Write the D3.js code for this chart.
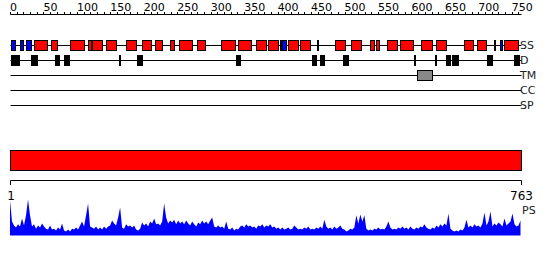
<!DOCTYPE html>
<html>
<head>
<meta charset="utf-8">
<script src="https://cdn.jsdelivr.net/npm/d3@7"></script>
<style>
body { margin: 0; background: #fff; }
svg { display: block; }
text { font-family: "DejaVu Sans", sans-serif; }
</style>
</head>
<body>
<svg id="chart" width="550" height="260"></svg>
<script>
var seqLength = 763;
var rulerLabels = d3.range(0, 751, 50);
var rulerTicks = d3.range(0, 761, 10);
var trackNames = ["SS", "D", "TM", "CC", "SP"];

// secondary structure, [start, end] in residues
var helix = [[36, 55], [61, 70], [90, 110], [117, 121], [123, 137], [144, 159], [174, 189],
    [198, 211], [217, 227], [239, 245], [253, 272], [280, 291], [316, 337], [341, 360],
    [367, 382], [386, 401], [416, 430], [434, 449], [459, 460], [486, 500], [510, 524],
    [538, 544], [547, 551], [563, 578], [583, 602], [615, 630], [636, 651], [678, 692],
    [698, 711], [724, 725], [739, 759]];
var strand = [[1, 7], [15, 19], [24, 31], [403, 405], [407, 413], [732, 735]];
var disorder = [[1, 13], [31, 40], [61, 62], [67, 73], [81, 88], [163, 164], [190, 197],
    [338, 344], [452, 458], [463, 470], [478, 479], [497, 505], [530, 531], [604, 605],
    [635, 636], [652, 658], [660, 669], [696, 697], [713, 720], [754, 761]];
var transmembrane = [[608, 631]];
var coiledCoil = [];
var signalPeptide = [];

// PS profile, evenly spaced over the sequence
var psScores = [
    .97, .39, .28, .22, .31, .25, .47, .28, .56, 1, .56, .25, .31, .19, .28, .22,
    .33, .25, .19, .17, .28, .17, .19, .14, .22, .17, .33, .14, .11, .17, .11, .19,
    .17, .22, .17, .28, .39, .25, .56, .89, .25, .22, .19, .25, .17, .22, .17, .25,
    .19, .25, .28, .42, .33, .28, .5, .78, .22, .19, .31, .25, .28, .22, .28, .17,
    .14, .19, .36, .28, .33, .25, .39, .33, .47, .31, .33, .28, .39, .89, .5, .33,
    .42, .36, .44, .31, .42, .33, .39, .31, .42, .33, .28, .39, .31, .25, .36, .31,
    .42, .33, .39, .31, .42, .5, .25, .22, .28, .22, .25, .19, .39, .19, .17, .22,
    .14, .19, .17, .25, .28, .22, .31, .25, .28, .22, .25, .19, .28, .25, .31, .22,
    .28, .25, .31, .22, .25, .19, .22, .17, .22, .17, .19, .22, .17, .19, .28, .22,
    .17, .19, .17, .22, .19, .25, .17, .19, .17, .22, .19, .25, .19, .44, .25, .19,
    .22, .17, .25, .19, .22, .28, .19, .17, .11, .14, .19, .17, .22, .56, .33, .58,
    .39, .56, .19, .14, .17, .14, .19, .17, .22, .17, .19, .17, .25, .39, .22, .17,
    .19, .17, .22, .19, .25, .19, .22, .17, .25, .19, .17, .22, .19, .25, .22, .31,
    .22, .19, .17, .22, .19, .28, .22, .31, .25, .33, .28, .61, .19, .14, .11, .14,
    .11, .17, .14, .22, .44, .22, .28, .22, .31, .25, .28, .22, .33, .64, .28, .39,
    .67, .25, .33, .28, .36, .31, .25, .47, .28, .33, .39, .61, .31, .25, .28, .42];

var svg = d3.select("#chart");
var x = d3.scaleLinear().domain([0, seqLength]).range([10, 520.5]);
function px(v) { return Math.round(x(v)) + 0.5; }

// top ruler
var ruler = svg.append("g");
ruler.append("line")
    .attr("x1", px(0)).attr("x2", px(seqLength))
    .attr("y1", 14.5).attr("y2", 14.5)
    .attr("stroke", "#000");
ruler.selectAll(".tick").data(rulerTicks).enter().append("line")
    .attr("x1", function(d) { return px(d); })
    .attr("x2", function(d) { return px(d); })
    .attr("y1", 12).attr("y2", 14.5)
    .attr("stroke", "#000");
ruler.selectAll("text").data(rulerLabels).enter().append("text")
    .attr("x", function(d) { return x(d); })
    .attr("y", 10.5)
    .style("font-size", "11px")
    .text(function(d) { return d; });

// tracks
var trackY = d3.scalePoint().domain(trackNames).range([45.5, 105.5]);

svg.append("g").selectAll("line").data(trackNames).enter().append("line")
    .attr("x1", px(0)).attr("x2", px(seqLength))
    .attr("y1", function(d) { return trackY(d); })
    .attr("y2", function(d) { return trackY(d); })
    .attr("stroke", "#000");

svg.append("g").selectAll("text").data(trackNames).enter().append("text")
    .attr("x", 520)
    .attr("y", function(d) { return trackY(d); })
    .attr("dy", "0.36em")
    .style("font-size", "11px")
    .style("fill", "#222")
    .text(function(d) { return d; });

function drawBoxes(list, track, fill) {
    svg.append("g").selectAll("rect").data(list).enter().append("rect")
        .attr("x", function(d) { return px(d[0]); })
        .attr("width", function(d) { return Math.max(0, px(d[1]) - px(d[0])); })
        .attr("y", trackY(track) - 5)
        .attr("height", 10)
        .attr("fill", fill)
        .attr("stroke", "#000");
}
drawBoxes(helix, "SS", "#ff0000");
drawBoxes(strand, "SS", "#0000ff");
drawBoxes(disorder, "D", "#000");
drawBoxes(transmembrane, "TM", "#888888");
drawBoxes(coiledCoil, "CC", "#888888");
drawBoxes(signalPeptide, "SP", "#888888");

// domain bar
svg.append("rect")
    .attr("x", px(0)).attr("width", px(seqLength) - px(0))
    .attr("y", 150.5).attr("height", 20)
    .attr("fill", "#ff0000")
    .attr("stroke", "#000");

// bottom ruler
var ends = [1, seqLength];
svg.append("line")
    .attr("x1", px(0)).attr("x2", px(seqLength))
    .attr("y1", 180.5).attr("y2", 180.5)
    .attr("stroke", "#000");
svg.append("g").selectAll("line").data(ends).enter().append("line")
    .attr("x1", function(d) { return px(d == 1 ? 0 : d); })
    .attr("x2", function(d) { return px(d == 1 ? 0 : d); })
    .attr("y1", 180.5).attr("y2", 185)
    .attr("stroke", "#000");
svg.append("g").selectAll("text").data(ends).enter().append("text")
    .attr("x", function(d) { return x(d == 1 ? 0 : d) + 1; })
    .attr("y", 200)
    .attr("text-anchor", "middle")
    .style("font-size", "12px")
    .text(function(d) { return d; });

svg.append("text")
    .attr("x", 522).attr("y", 214)
    .style("font-size", "11px")
    .style("fill", "#222")
    .text("PS");

// PS profile
var psX = d3.scaleLinear().domain([0, psScores.length - 1]).range([0, seqLength]);
var y = d3.scaleLinear().domain([0, 1]).range([235.5, 199.5]);
var area = d3.area()
    .x(function(d, i) { return x(psX(i)); })
    .y0(y(0))
    .y1(function(d) { return y(d); });
svg.append("path")
    .datum(psScores)
    .attr("d", area)
    .attr("fill", "#0000ff");
</script>
</body>
</html>
